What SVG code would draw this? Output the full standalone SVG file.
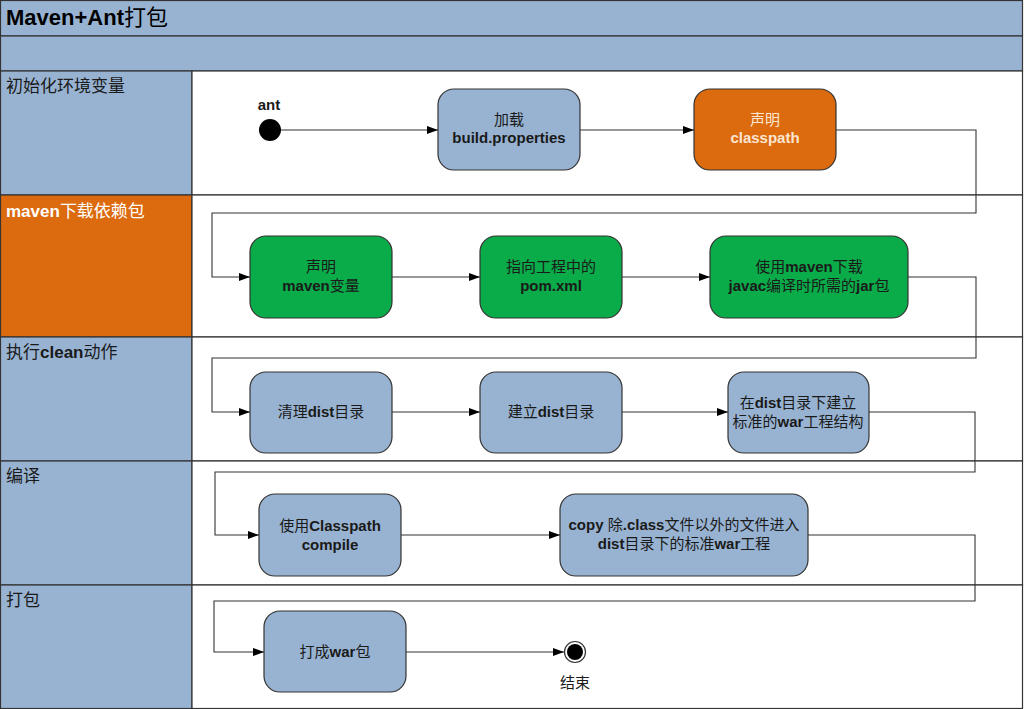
<svg xmlns="http://www.w3.org/2000/svg" width="1024" height="709" viewBox="0 0 1024 709">
<style>
text{font-family:"Liberation Sans","Noto Sans CJK SC",sans-serif;fill:#1a1a1a}
.hdr{fill:#98b3d1;stroke:#333;stroke-width:1.2}
.lane{fill:#fff;stroke:#333;stroke-width:1.2}
.blue{fill:#98b3d1;stroke:#333;stroke-width:1.2}
.orange{fill:#dc6a0e;stroke:#333;stroke-width:1.2}
.green{fill:#0aab49;stroke:#333;stroke-width:1.2}
.lbl{font-size:17px}
.nt{font-size:15px;text-anchor:middle}
.b{font-weight:bold}
.conn{fill:none;stroke:#333;stroke-width:1.1}
</style>
<defs>
<marker id="arr" viewBox="0 0 11 8" refX="11" refY="4" markerWidth="11" markerHeight="8" markerUnits="userSpaceOnUse" orient="auto">
<path d="M0,0 L11,4 L0,8 z" fill="#000"/>
</marker>
</defs>
<g id="frame">
<rect class="hdr" x="0.5" y="0.5" width="1022" height="35.5"/>
<rect class="hdr" x="0.5" y="36" width="1022" height="35"/>
<text x="6" y="25" font-size="22" style="fill:#000"><tspan class="b" style="fill:#000">Maven+Ant</tspan>打包</text>
</g>
<g id="lane1">
<rect class="hdr" x="0.5" y="71" width="191.5" height="124"/>
<rect class="lane" x="192" y="71" width="830.5" height="124"/>
<text class="lbl" x="6" y="92">初始化环境变量</text>
</g>
<g id="lane2">
<rect class="orange" x="0.5" y="195" width="191.5" height="142"/>
<rect class="lane" x="192" y="195" width="830.5" height="142"/>
<text class="lbl" x="6" y="217" style="fill:#fff"><tspan class="b" style="fill:#fff">maven</tspan>下载依赖包</text>
</g>
<g id="lane3">
<rect class="hdr" x="0.5" y="337" width="191.5" height="124"/>
<rect class="lane" x="192" y="337" width="830.5" height="124"/>
<text class="lbl" x="6" y="358">执行<tspan class="b">clean</tspan>动作</text>
</g>
<g id="lane4">
<rect class="hdr" x="0.5" y="461" width="191.5" height="124"/>
<rect class="lane" x="192" y="461" width="830.5" height="124"/>
<text class="lbl" x="6" y="482">编译</text>
</g>
<g id="lane5">
<rect class="hdr" x="0.5" y="585" width="191.5" height="123.5"/>
<rect class="lane" x="192" y="585" width="830.5" height="123.5"/>
<text class="lbl" x="6" y="606">打包</text>
</g>
<g id="connectors">
<path class="conn" d="M281,130 H438" marker-end="url(#arr)"/>
<path class="conn" d="M580,130 H694" marker-end="url(#arr)"/>
<path class="conn" d="M836,130 H976 V213 H212 V277 H250" marker-end="url(#arr)"/>
<path class="conn" d="M392,277 H480" marker-end="url(#arr)"/>
<path class="conn" d="M622,277 H710" marker-end="url(#arr)"/>
<path class="conn" d="M908,277 H976 V358 H212 V412 H250" marker-end="url(#arr)"/>
<path class="conn" d="M392,412 H480" marker-end="url(#arr)"/>
<path class="conn" d="M622,412 H728" marker-end="url(#arr)"/>
<path class="conn" d="M869,412 H975 V472 H215 V535 H259" marker-end="url(#arr)"/>
<path class="conn" d="M401,535 H560" marker-end="url(#arr)"/>
<path class="conn" d="M808,535 H975 V601 H214 V652 H264" marker-end="url(#arr)"/>
<path class="conn" d="M406,652 H564" marker-end="url(#arr)"/>
</g>
<g id="start">
<circle cx="270" cy="130" r="11" fill="#000"/>
<text class="nt b" x="269" y="110">ant</text>
</g>
<g id="n_build">
<rect class="blue" x="438" y="89" width="142" height="81" rx="16"/>
<text class="nt" x="509" y="125">加载</text>
<text class="nt b" x="509" y="143">build.properties</text>
</g>
<g id="n_classpath">
<rect class="orange" x="694" y="89" width="142" height="81" rx="16"/>
<text class="nt" x="765" y="125" style="fill:#fbe6d2">声明</text>
<text class="nt b" x="765" y="143" style="fill:#fbe6d2">classpath</text>
</g>
<g id="n_mavenvar">
<rect class="green" x="250" y="236" width="142" height="82" rx="16"/>
<text class="nt" x="321" y="272">声明</text>
<text class="nt" x="321" y="291"><tspan class="b">maven</tspan>变量</text>
</g>
<g id="n_pom">
<rect class="green" x="480" y="236" width="142" height="82" rx="16"/>
<text class="nt" x="551" y="272">指向工程中的</text>
<text class="nt b" x="551" y="291">pom.xml</text>
</g>
<g id="n_javac">
<rect class="green" x="710" y="236" width="198" height="82" rx="16"/>
<text class="nt" x="809" y="272">使用<tspan class="b">maven</tspan>下载</text>
<text class="nt" x="809" y="291"><tspan class="b">javac</tspan>编译时所需的<tspan class="b">jar</tspan>包</text>
</g>
<g id="n_clean">
<rect class="blue" x="250" y="372" width="142" height="81" rx="16"/>
<text class="nt" x="321" y="417">清理<tspan class="b">dist</tspan>目录</text>
</g>
<g id="n_mkdist">
<rect class="blue" x="480" y="372" width="142" height="81" rx="16"/>
<text class="nt" x="551" y="417">建立<tspan class="b">dist</tspan>目录</text>
</g>
<g id="n_war">
<rect class="blue" x="728" y="372" width="141" height="81" rx="16"/>
<text class="nt" x="798" y="408">在<tspan class="b">dist</tspan>目录下建立</text>
<text class="nt" x="798" y="427">标准的<tspan class="b">war</tspan>工程结构</text>
</g>
<g id="n_compile">
<rect class="blue" x="259" y="494" width="142" height="82" rx="16"/>
<text class="nt" x="330" y="531">使用<tspan class="b">Classpath</tspan></text>
<text class="nt b" x="330" y="550">compile</text>
</g>
<g id="n_copy">
<rect class="blue" x="560" y="494" width="248" height="82" rx="16"/>
<text class="nt" x="684" y="530"><tspan class="b">copy</tspan> 除<tspan class="b">.class</tspan>文件以外的文件进入</text>
<text class="nt" x="684" y="549"><tspan class="b">dist</tspan>目录下的标准<tspan class="b">war</tspan>工程</text>
</g>
<g id="n_pack">
<rect class="blue" x="264" y="611" width="142" height="81" rx="16"/>
<text class="nt" x="335" y="657">打成<tspan class="b">war</tspan>包</text>
</g>
<g id="end">
<circle cx="575" cy="652" r="10.5" fill="#fff" stroke="#333" stroke-width="1.2"/>
<circle cx="575" cy="652" r="8" fill="#000"/>
<text class="nt" x="575" y="688">结束</text>
</g>
</svg>
